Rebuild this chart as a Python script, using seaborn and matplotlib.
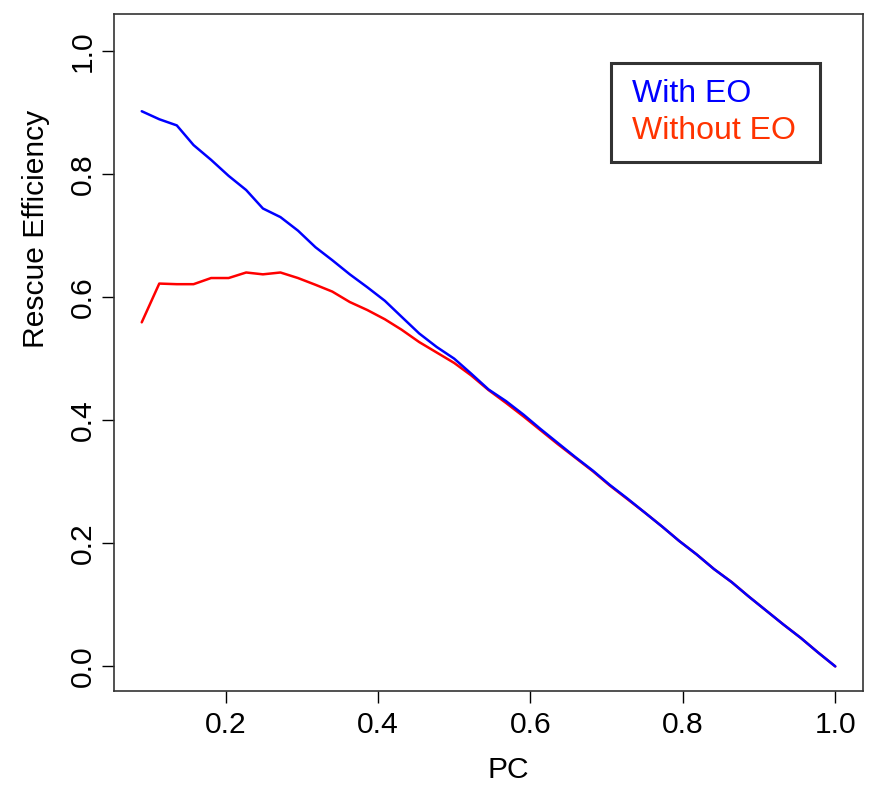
import numpy as np
import pandas as pd
import matplotlib
matplotlib.use("Agg")
import matplotlib.pyplot as plt
from matplotlib.lines import Line2D
import seaborn as sns

pc = [0.090, 0.113, 0.136, 0.158, 0.181, 0.204, 0.227, 0.249, 0.272, 0.295,
      0.318, 0.340, 0.363, 0.386, 0.409, 0.431, 0.454, 0.477, 0.500, 0.522,
      0.545, 0.568, 0.591, 0.613, 0.636, 0.659, 0.682, 0.704, 0.727, 0.750,
      0.773, 0.795, 0.818, 0.841, 0.864, 0.886, 0.909, 0.932, 0.955, 0.977, 1.000]

with_eo = [0.902, 0.889, 0.879, 0.847, 0.823, 0.797, 0.774, 0.744, 0.730, 0.708,
           0.681, 0.660, 0.637, 0.616, 0.594, 0.568, 0.541, 0.519, 0.500, 0.476,
           0.450, 0.431, 0.409, 0.386, 0.363, 0.340, 0.318, 0.295, 0.273, 0.250,
           0.227, 0.204, 0.182, 0.158, 0.137, 0.114, 0.091, 0.068, 0.046, 0.023, 0.000]

without_eo = [0.559, 0.622, 0.621, 0.621, 0.631, 0.631, 0.640, 0.637, 0.640, 0.631,
              0.620, 0.609, 0.592, 0.579, 0.564, 0.547, 0.527, 0.510, 0.493, 0.473,
              0.449, 0.428, 0.406, 0.384, 0.361, 0.339, 0.317, 0.294, 0.272, 0.250,
              0.227, 0.204, 0.182, 0.158, 0.137, 0.114, 0.091, 0.068, 0.046, 0.023, 0.000]

series_names = ["With EO", "Without EO"]
line_colors = ["#0000ff", "#ff0000"]
text_colors = ["#0000ff", "#ff3300"]
x_ticks = [0.2, 0.4, 0.6, 0.8, 1.0]
y_ticks = [0.0, 0.2, 0.4, 0.6, 0.8, 1.0]

df = pd.DataFrame({
    "PC": pc + pc,
    "Rescue Efficiency": with_eo + without_eo,
    "series": [series_names[0]] * len(pc) + [series_names[1]] * len(pc),
})

sns.set_style("white")
plt.rcParams["font.family"] = ["Liberation Sans", "DejaVu Sans"]

fig = plt.figure(figsize=(8.92, 7.88), dpi=100)
ax = fig.add_axes([114 / 892, 1 - 691 / 788, 749 / 892, 677 / 788])

sns.lineplot(data=df, x="PC", y="Rescue Efficiency", hue="series",
             hue_order=[series_names[1], series_names[0]],
             palette=dict(zip(series_names, line_colors)), linewidth=1.8,
             ax=ax, legend=False, sort=False)

ax.set_xlim(0.0536, 1.0364)
ax.set_ylim(-0.04, 1.06)
ax.set_xticks(x_ticks)
ax.set_xticklabels([f"{t:.1f}" for t in x_ticks])
ax.set_yticks(y_ticks)
ax.set_yticklabels([f"{t:.1f}" for t in y_ticks], rotation=90, va="center")
ax.tick_params(axis="both", direction="out", length=8.6, width=1.0, colors="black",
               labelsize=21.6, left=True, bottom=True)
ax.tick_params(axis="x", pad=6)
ax.tick_params(axis="y", pad=4)
for s in ax.spines.values():
    s.set_visible(True)
    s.set_color("#333333")
    s.set_linewidth(1.2)

ax.set_xlabel("PC", fontsize=21.6, color="black")
ax.set_ylabel("Rescue Efficiency", fontsize=21.6, color="black")
ax.xaxis.set_label_coords(0.527, -0.096)
ax.yaxis.set_label_coords(-0.0857, 0.683)

handles = [Line2D([], [], alpha=0) for _ in series_names]
leg = ax.legend(handles, series_names, loc="upper left", mode="expand",
                bbox_to_anchor=(0.6636, 0.8, 0.279, 0.1276), frameon=True,
                fancybox=False, handlelength=0, handletextpad=0.16,
                borderpad=0.5, labelspacing=0.22, fontsize=23,
                borderaxespad=0)
for t, c in zip(leg.get_texts(), text_colors):
    t.set_color(c)
leg.get_frame().set_edgecolor("black")
leg.get_frame().set_linewidth(2.2)

fig.savefig("out.png", dpi=100)
